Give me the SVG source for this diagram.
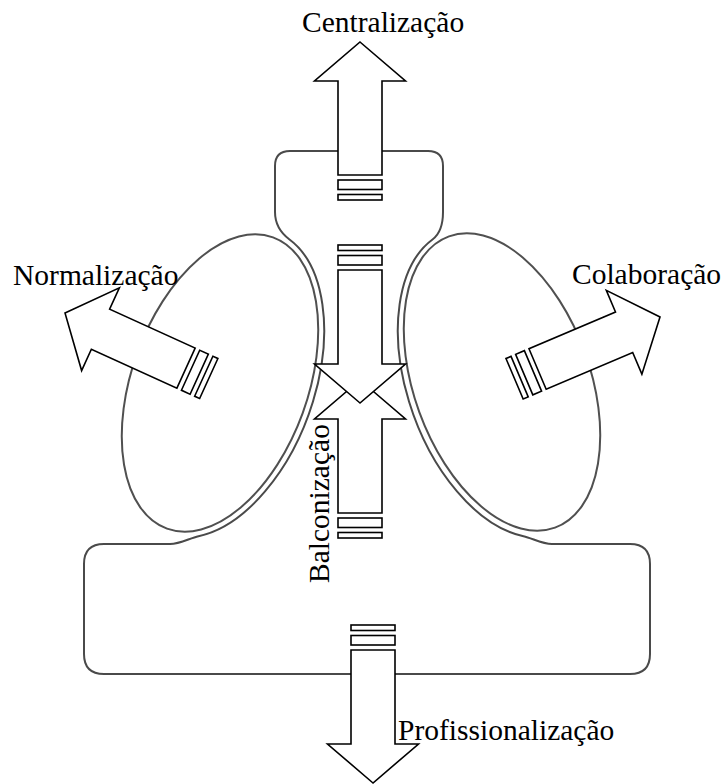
<svg xmlns="http://www.w3.org/2000/svg" xmlns:xlink="http://www.w3.org/1999/xlink" width="728" height="784" viewBox="0 0 728 784">
<style>
.outline{fill:none;stroke:#4a4a4a;stroke-width:2;stroke-linejoin:round}
.lobe{fill:none;stroke:#505050;stroke-width:2}
.arr{fill:#fff;stroke:#000;stroke-width:1.6;stroke-linejoin:miter}
.lbl{font-family:"Liberation Serif","Times New Roman",serif;font-size:29.5px;fill:#000}
</style>
<defs>
<g id="arrow">
<polygon class="arr" points="0,0 45.5,39 22,39 22,133 -22,133 -22,39 -45.5,39"/>
<rect class="arr" x="-22" y="138" width="44" height="9.5"/>
<rect class="arr" x="-22" y="152.5" width="44" height="5.5"/>
</g>
</defs>
<rect width="728" height="784" fill="#fff"/>
<g id="body">
<path class="outline" d="M 290,151 H 428 Q 443,151 443,166 V 212 Q 443,231.6 432.5,239.5 A 94 161 -20 0 0 523.5,536.2 C 532,538 542,544 552,544 H 630 Q 650,544 650,564 V 654 Q 650,674 630,674 H 104 Q 84,674 84,654 V 564 Q 84,544 104,544 H 170 C 180,544 190,538 198.5,536.2 A 94 161 20 0 0 289.5,239.5 Q 275,228.6 275,212 V 166 Q 275,151 290,151 Z"/>
</g>
<g id="lobe-left">
<ellipse class="lobe" cx="220" cy="383" rx="88" ry="155" transform="rotate(20 220 383)"/>
</g>
<g id="lobe-right">
<ellipse class="lobe" cx="502" cy="382" rx="88" ry="155" transform="rotate(-20 502 382)"/>
</g>
<g id="connectors">
<use xlink:href="#arrow" href="#arrow" transform="translate(360,42)"/>
<use xlink:href="#arrow" href="#arrow" transform="translate(360,380)"/>
<use xlink:href="#arrow" href="#arrow" transform="translate(360,403) rotate(180)"/>
<use xlink:href="#arrow" href="#arrow" transform="translate(373,783) rotate(180)"/>
<use xlink:href="#arrow" href="#arrow" transform="translate(65,313) rotate(-65.5)"/>
<use xlink:href="#arrow" href="#arrow" transform="translate(660,317) rotate(67)"/>
</g>
<g id="label-centralizacao"><text class="lbl" x="302" y="32">Centralização</text></g>
<g id="label-normalizacao"><text class="lbl" x="13" y="285">Normalização</text></g>
<g id="label-colaboracao"><text class="lbl" x="572" y="284">Colaboração</text></g>
<g id="label-balconizacao"><text class="lbl" transform="translate(329,583) rotate(-90)">Balconização</text></g>
<g id="label-profissionalizacao"><text class="lbl" x="398" y="740">Profissionalização</text></g>
</svg>
